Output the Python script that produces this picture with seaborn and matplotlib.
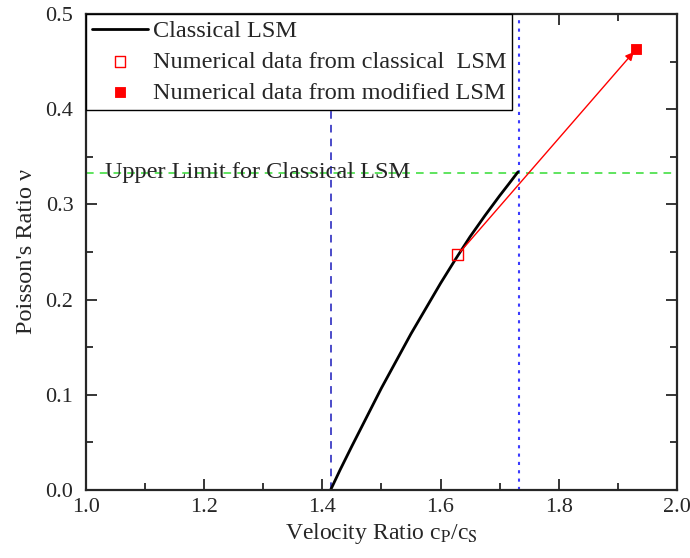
import numpy as np
import pandas as pd
import matplotlib
matplotlib.use('Agg')
import matplotlib.pyplot as plt
import seaborn as sns

# classical LSM curve
ratio = [1.414, 1.43, 1.45, 1.50, 1.55, 1.60, 1.625, 1.65, 1.675, 1.70, 1.715, 1.731]
nu = [0.0, 0.021, 0.046, 0.107, 0.164, 0.217, 0.242, 0.266, 0.288, 0.309, 0.321, 0.334]

# numerical points
classical_x = [1.629]
classical_y = [0.247]
modified_x = [1.931]
modified_y = [0.463]

upper_limit = 0.333
sqrt2 = 1.414
sqrt3 = 1.732

sns.set_style('ticks')
plt.rcParams['font.family'] = ['Liberation Serif', 'DejaVu Serif']
plt.rcParams['mathtext.fontset'] = 'stix'

fig, ax = plt.subplots(figsize=(6.9, 5.58), dpi=100)
fig.subplots_adjust(left=0.1246, right=0.981, top=0.975, bottom=0.122)

df = pd.DataFrame({'ratio': ratio, 'nu': nu})
sns.lineplot(data=df, x='ratio', y='nu', ax=ax, color='black', lw=2.0,
             label='Classical LSM')
sns.scatterplot(x=classical_x, y=classical_y, ax=ax, marker='s', s=60,
                facecolor='none', edgecolor='red', linewidth=1.0,
                label='Numerical data from classical  LSM', zorder=5)
sns.scatterplot(x=modified_x, y=modified_y, ax=ax, marker='s', s=60,
                color='red', edgecolor='red',
                label='Numerical data from modified LSM', zorder=5)

# arrow from classical point to modified point
ax.annotate('', xy=(modified_x[0] - 0.004, modified_y[0] - 0.003),
            xytext=(classical_x[0], classical_y[0]),
            arrowprops=dict(arrowstyle='-|>', color='red', lw=1.0,
                            mutation_scale=12, shrinkA=3, shrinkB=0))

ax.axvline(sqrt2, color='#1a1abb', ls=(0, (5, 4)), lw=1.1, zorder=1)
ax.axvline(sqrt3, color='#3b3bff', ls=(0, (1.5, 2.5)), lw=1.5, zorder=1)
ax.axhline(upper_limit, color='#33dd33', ls=(0, (5, 4)), lw=1.1, zorder=1)
ax.text(1.033, upper_limit, 'Upper Limit for Classical LSM', fontsize=17.5,
        va='center', ha='left')

ax.set_xlim(1.0, 2.0)
ax.set_ylim(0.0, 0.5)
ax.set_xticks(np.arange(1.0, 2.01, 0.2))
ax.set_xticks(np.arange(1.1, 2.0, 0.2), minor=True)
ax.set_yticks(np.arange(0.0, 0.51, 0.1))
ax.set_yticks(np.arange(0.05, 0.5, 0.1), minor=True)
ax.xaxis.set_major_formatter(matplotlib.ticker.FormatStrFormatter('%.1f'))
ax.yaxis.set_major_formatter(matplotlib.ticker.FormatStrFormatter('%.1f'))
ax.tick_params(which='both', direction='in', top=True, right=True,
               labeltop=False, labelright=False, labelsize=16, width=1.3)
ax.tick_params(which='major', length=8)
ax.tick_params(which='minor', length=5)
ax.tick_params(axis='x', which='major', pad=6)
ax.tick_params(axis='y', which='major', pad=9)
for sp in ax.spines.values():
    sp.set_linewidth(1.6)
    sp.set_visible(True)

ax.set_xlabel('Velocity Ratio c$_\\mathrm{P}$/c$_\\mathrm{S}$', fontsize=17, labelpad=3)
ax.set_ylabel("Poisson's Ratio ν", fontsize=17.5, labelpad=6)

leg = ax.legend(loc='upper left', bbox_to_anchor=(0, 1), borderaxespad=0,
                fontsize=17.5, frameon=True, fancybox=False, framealpha=1,
                edgecolor='black', handlelength=2.3, handletextpad=0.2,
                labelspacing=0.36, borderpad=0.25)
leg.get_frame().set_linewidth(1.0)

fig.savefig('out.png', dpi=100)
